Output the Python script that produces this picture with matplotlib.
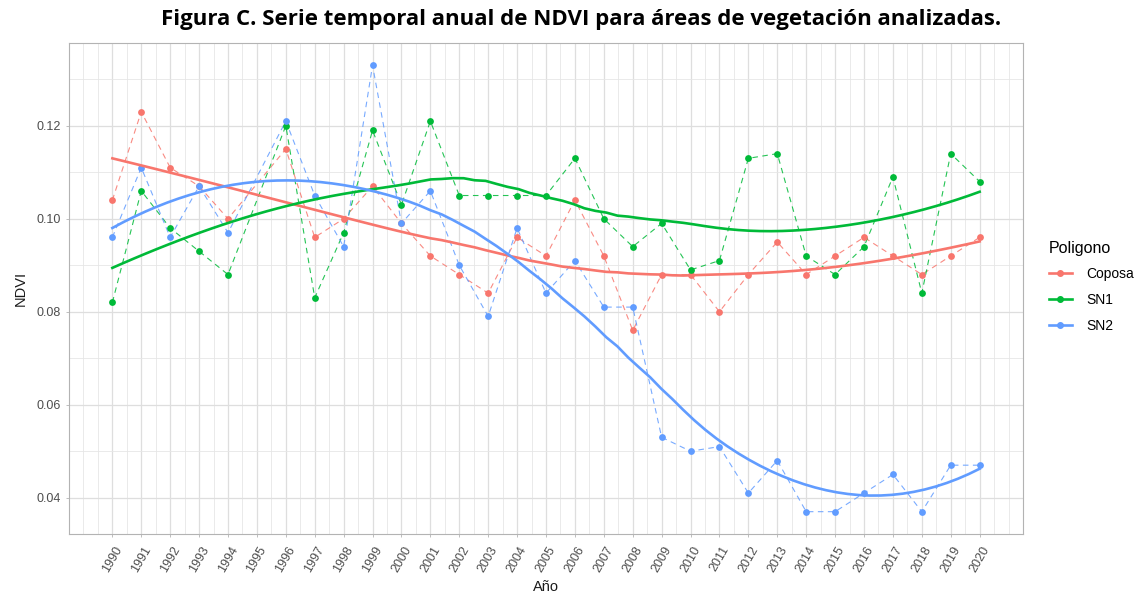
import numpy as np
import matplotlib
matplotlib.use("Agg")
import matplotlib.pyplot as plt
from matplotlib.lines import Line2D
from matplotlib.ticker import FixedLocator

# datos NDVI anuales (1995 sin dato)
anios = [1990, 1991, 1992, 1993, 1994, 1996, 1997, 1998, 1999, 2000,
         2001, 2002, 2003, 2004, 2005, 2006, 2007, 2008, 2009, 2010,
         2011, 2012, 2013, 2014, 2015, 2016, 2017, 2018, 2019, 2020]
coposa = [0.104, 0.123, 0.111, 0.107, 0.100, 0.115, 0.096, 0.100, 0.107, 0.099,
          0.092, 0.088, 0.084, 0.096, 0.092, 0.104, 0.092, 0.076, 0.088, 0.088,
          0.080, 0.088, 0.095, 0.088, 0.092, 0.096, 0.092, 0.088, 0.092, 0.096]
sn1 = [0.082, 0.106, 0.098, 0.093, 0.088, 0.120, 0.083, 0.097, 0.119, 0.103,
       0.121, 0.105, 0.105, 0.105, 0.105, 0.113, 0.100, 0.094, 0.099, 0.089,
       0.091, 0.113, 0.114, 0.092, 0.088, 0.094, 0.109, 0.084, 0.114, 0.108]
sn2 = [0.096, 0.111, 0.096, 0.107, 0.097, 0.121, 0.105, 0.094, 0.133, 0.099,
       0.106, 0.090, 0.079, 0.098, 0.084, 0.091, 0.081, 0.081, 0.053, 0.050,
       0.051, 0.041, 0.048, 0.037, 0.037, 0.041, 0.045, 0.037, 0.047, 0.047]

series = ['Coposa', 'SN1', 'SN2']
colores = ['#F8766D', '#00BA38', '#619CFF']
etiquetas_x = list(range(1990, 2021))


def loess(x, y, xs, span=0.75):
    # ajuste local cuadratico con pesos tricubicos (como geom_smooth)
    x = np.asarray(x, float)
    y = np.asarray(y, float)
    q = int(np.floor(len(x) * span))
    out = []
    for x0 in xs:
        d = np.abs(x - x0)
        h = np.sort(d)[q - 1]
        w = np.where(d < h, (1 - (d / h) ** 3) ** 3, 0.0)
        X = np.column_stack([np.ones_like(x), x - x0, (x - x0) ** 2])
        sw = np.sqrt(w)
        beta = np.linalg.lstsq(X * sw[:, None], y * sw, rcond=None)[0]
        out.append(beta[0])
    return np.array(out)


plt.rcParams['font.family'] = ['Liberation Sans', 'DejaVu Sans']

fig = plt.figure(figsize=(11.36, 5.99), dpi=100)
W, H = 1136, 599
ax = fig.add_axes([69 / W, 1 - 534 / H, (1023 - 69) / W, (534 - 43) / H])

xs = np.linspace(min(anios), max(anios), 80)
for nombre, vals, c in zip(series, [coposa, sn1, sn2], colores):
    ax.plot(anios, vals, color=c, lw=0.8, dashes=(5, 4), alpha=0.85, zorder=3)
    ax.scatter(anios, vals, color=c, s=24, zorder=4, linewidths=0)
    ax.plot(xs, loess(anios, vals, xs), color=c, lw=1.9, zorder=5)

ax.set_xlim(1988.5, 2021.5)
ax.set_ylim(0.0322, 0.1378)

ax.xaxis.set_major_locator(FixedLocator(etiquetas_x))
ax.xaxis.set_minor_locator(FixedLocator([v for v in np.arange(1989, 2021.01, 0.5) if v not in etiquetas_x]))
ax.set_xticklabels([str(a) for a in etiquetas_x], rotation=60, ha='center', va='top')
ax.yaxis.set_major_locator(FixedLocator([0.04, 0.06, 0.08, 0.10, 0.12]))
ax.yaxis.set_minor_locator(FixedLocator([0.05, 0.07, 0.09, 0.11, 0.13]))
ax.set_yticklabels(['0.04', '0.06', '0.08', '0.10', '0.12'])

ax.grid(which='major', color='#DEDEDE', lw=0.9)
ax.grid(which='minor', color='#E6E6E6', lw=0.6)
ax.set_axisbelow(True)
for s in ax.spines.values():
    s.set_color('#B3B3B3')
    s.set_linewidth(0.8)
ax.tick_params(which='major', length=2.5, width=0.6, color='#B3B3B3',
               labelcolor='#4D4D4D', labelsize=9)
ax.tick_params(axis='x', pad=5)
ax.tick_params(which='minor', length=0)

ax.set_xlabel('Año', fontsize=10.5, color='#1A1A1A', labelpad=4)
ax.set_ylabel('NDVI', fontsize=10.5, color='#1A1A1A', labelpad=6)

fig.text(581 / W, 1 - 20 / H,
         'Figura C. Serie temporal anual de NDVI para áreas de vegetación analizadas.',
         ha='center', va='center', fontsize=16, fontweight='bold',
         family=['Open Sans', 'DejaVu Sans'])

handles = [Line2D([], [], color=c, lw=1.9, marker='o', ms=4) for c in colores]
leg = fig.legend(handles, series, loc='upper left', bbox_to_anchor=(1036 / W, 1 - 228 / H),
                 frameon=False, title='Poligono', fontsize=10, title_fontsize=11.5,
                 handlelength=1.7, handletextpad=1.0, labelspacing=0.85, alignment='left')

fig.savefig('out.png', dpi=100)
